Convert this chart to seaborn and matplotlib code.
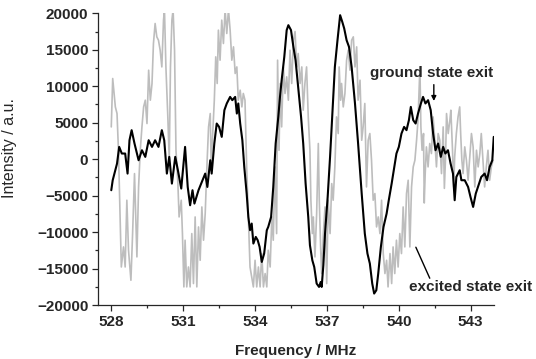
import numpy as np
import pandas as pd
import matplotlib
matplotlib.use("Agg")
import matplotlib.pyplot as plt
import seaborn as sns
from matplotlib.ticker import MultipleLocator

black_freq = [528.00, 528.06, 528.17, 528.24, 528.33, 528.44, 528.58, 528.68, 528.76, 528.85,
              528.97, 529.14, 529.28, 529.42, 529.56, 529.70, 529.83, 529.97, 530.11, 530.21,
              530.32, 530.42, 530.53, 530.67, 530.78, 530.92, 531.08, 531.19, 531.29, 531.39,
              531.47, 531.64, 531.78, 531.92, 532.01, 532.13, 532.19, 532.30, 532.40, 532.50,
              532.61, 532.72, 532.82, 532.96, 533.05, 533.17, 533.24, 533.30, 533.38, 533.47,
              533.55, 533.65, 533.72, 533.79, 533.86, 533.93, 534.03, 534.11, 534.19, 534.28,
              534.38, 534.49, 534.55, 534.67, 534.76, 534.86, 534.97, 535.04, 535.11, 535.22,
              535.32, 535.39, 535.50, 535.60, 535.69, 535.80, 535.92, 536.01, 536.11, 536.22,
              536.29, 536.39, 536.47, 536.57, 536.67, 536.74, 536.78, 536.85, 536.92, 537.03,
              537.13, 537.22, 537.33, 537.44, 537.55, 537.64, 537.72, 537.82, 537.92, 538.03,
              538.17, 538.30, 538.45, 538.58, 538.69, 538.79, 538.89, 538.97, 539.06, 539.14,
              539.25, 539.36, 539.49, 539.58, 539.70, 539.81, 539.90, 540.00, 540.11, 540.22,
              540.32, 540.42, 540.50, 540.60, 540.70, 540.80, 540.92, 541.01, 541.11, 541.22,
              541.33, 541.43, 541.53, 541.64, 541.75, 541.85, 541.94, 542.05, 542.16, 542.26,
              542.33, 542.40, 542.54, 542.61, 542.75, 542.89, 542.99, 543.10, 543.21, 543.35,
              543.44, 543.58, 543.68, 543.79, 543.90, 543.96]
black_int = [-4250, -2880, -1510, -600, 1690, 780, 780, -1970, 2600, 3980,
             2150, -140, 1230, 320, 2600, 1690, 2600, 1690, 3980, 2600,
             -1970, 320, -3340, 320, -1510, -4020, 1690, -3800, -6310, -4250,
             -6080, -4250, -3110, -1970, -3800, -140, -1970, 2150, 4890, 4430,
             3060, 6720, 7640, 8540, 8090, 8540, 6260, 7640, 4890, 2600,
             -1050, -4710, -7910, -9730, -8820, -11560, -10650, -11100, -12020, -14080,
             -12930, -9730, -9280, -7910, -3800, 2150, 5800, 8540, 10830, 14030,
             17690, 18370, 17690, 15400, 13570, 9910, 5800, 2150, -3340, -7910,
             -11790, -13850, -14770, -17040, -17500, -16820, -17500, -14530, -10190, -5170,
             320, 5800, 12650, 16310, 19740, 18820, 17920, 16310, 15400, 12650,
             7640, 2150, -4710, -10190, -12930, -14300, -17040, -18410, -17960, -15670,
             -12020, -9280, -7450, -5620, -3340, -1050, 780, 1690, 3520, 4430,
             3980, 5350, 7170, 5350, 4890, 6260, 7640, 8540, 7640, 8090,
             6720, 3520, 1230, 2150, 320, 1690, 780, 1230, -600, -1970,
             -5620, -2430, -1510, -2880, -2880, -3800, -5170, -6540, -4710, -3340,
             -2430, -1970, -2880, -1050, -140, 3060]

grey_freq = [528.00, 528.06, 528.17, 528.24, 528.30, 528.42, 528.51, 528.58, 528.65, 528.72,
             528.82, 528.89, 528.97, 529.07, 529.14, 529.21, 529.28, 529.35, 529.42, 529.49,
             529.56, 529.63, 529.70, 529.76, 529.83, 529.90, 529.97, 530.04, 530.11, 530.18,
             530.22, 530.28, 530.36, 530.42, 530.47, 530.53, 530.58, 530.64, 530.70, 530.78,
             530.83, 530.92, 530.97, 531.03, 531.08, 531.15, 531.22, 531.29, 531.36, 531.43,
             531.50, 531.57, 531.64, 531.71, 531.78, 531.85, 531.92, 531.99, 532.06, 532.13,
             532.17, 532.22, 532.30, 532.36, 532.42, 532.47, 532.54, 532.61, 532.68, 532.75,
             532.82, 532.89, 532.96, 533.03, 533.10, 533.17, 533.24, 533.30, 533.38, 533.45,
             533.51, 533.58, 533.65, 533.72, 533.79, 533.86, 533.93, 534.00, 534.07, 534.14,
             534.21, 534.28, 534.35, 534.42, 534.49, 534.55, 534.63, 534.70, 534.76, 534.83,
             534.90, 534.94, 535.00, 535.05, 535.11, 535.18, 535.25, 535.32, 535.39, 535.46,
             535.53, 535.60, 535.67, 535.71, 535.75, 535.80, 535.88, 535.95, 536.01, 536.08,
             536.15, 536.22, 536.29, 536.33, 536.39, 536.43, 536.50, 536.57, 536.64, 536.68,
             536.74, 536.78, 536.85, 536.92, 536.99, 537.05, 537.13, 537.20, 537.26, 537.33,
             537.40, 537.47, 537.51, 537.57, 537.61, 537.68, 537.75, 537.82, 537.89, 537.96,
             538.03, 538.10, 538.17, 538.24, 538.30, 538.38, 538.45, 538.51, 538.58, 538.65,
             538.72, 538.79, 538.86, 538.93, 539.00, 539.07, 539.14, 539.21, 539.28, 539.35,
             539.42, 539.49, 539.55, 539.63, 539.70, 539.76, 539.83, 539.90, 539.97, 540.04,
             540.11, 540.18, 540.25, 540.32, 540.39, 540.46, 540.53, 540.60, 540.67, 540.74,
             540.80, 540.88, 540.92, 540.97, 541.03, 541.06, 541.10, 541.15, 541.22, 541.29,
             541.36, 541.43, 541.50, 541.57, 541.64, 541.71, 541.78, 541.85, 541.90, 541.95,
             541.99, 542.06, 542.13, 542.17, 542.24, 542.29, 542.33, 542.40, 542.47, 542.54,
             542.58, 542.63, 542.68, 542.75, 542.82, 542.89, 542.96, 543.03, 543.10, 543.17,
             543.24, 543.31, 543.38, 543.44, 543.51, 543.58, 543.65, 543.72, 543.79, 543.86,
             543.93]
grey_int = [4430, 11060, 7170, 6260, 1230, -14770, -12020, -14770, -5620, -12480,
            -16590, -10190, -1970, -13390, -3800, 1230, 4430, 7170, 8090, 4890,
            12200, 8090, 10380, 15860, 18600, 16770, 16310, 14940, 12650, 19060,
            20500, 12650, 5800, -140, 12650, 19060, 20500, 14940, 1230, -3340,
            -7910, -5620, -10190, -17500, -11100, -17500, -14770, -17500, -10190, -17040,
            -7910, -17500, -9280, -13850, -6540, -11100, -7450, -1050, 4430, 6260,
            -1050, 2600, 8090, 14030, 10380, 17690, 13570, 19060, 15860, 20500,
            17230, 20500, 17690, 13570, 15400, 11750, 12650, 8090, 9460, 7170,
            9010, 8090, -1050, -7910, -14770, -16130, -17500, -13850, -17500, -14770,
            -17500, -12930, -17500, -15670, -17500, -12480, -14770, -7910, -11100, -1050,
            -10190, 13570, 1230, 10380, 4430, 12650, 9010, 11290, 8090, 14940,
            10380, 16310, 17500, 14500, 12650, 14490, 10380, 12650, 6720, 10380,
            12650, 5800, 1230, -5620, -10190, -7910, -13390, -7450, 2150, -5620,
            -12480, -15670, -10190, -6540, -17040, -5620, -10190, -3340, -5620, -1050,
            5800, 3520, 12650, 8090, 10380, 7170, 9010, 13570, 14940, 12200,
            16310, 16770, 12650, 15400, 8090, 10830, 2600, 4430, 7640, -3800,
            2600, 3520, -140, -5620, -4710, -9280, -7910, -10190, -5620, -12930,
            -15670, -13850, -17500, -12930, -17040, -12020, -15670, -11100, -14770, -10190,
            -12930, -6540, -12020, -4710, -2880, -12020, -3800, -1050, -140, 2600,
            5350, 12650, 4430, 1230, 3520, -6000, -1970, 1690, -1050, 2150,
            780, 5800, 2600, -1050, 3520, 2600, -1970, 4430, -4000, 320,
            6260, 3520, 5350, 6720, 1230, -3800, 320, 3520, 5800, 7170,
            3520, -140, -1970, 1690, -140, -2880, 320, 3520, 1690, -3800,
            1230, -1050, 780, 3520, -140, -3800, -1050, 1230, -2880, -1050,
            -140]

x_ticks = [528, 531, 534, 537, 540, 543]
y_ticks = [-20000, -15000, -10000, -5000, 0, 5000, 10000, 15000, 20000]

sns.set_style("ticks")
plt.rcParams['font.family'] = ['Liberation Sans', 'DejaVu Sans']

fig = plt.figure(figsize=(5.36, 3.59), dpi=100)
ax = fig.add_axes([0.183, 0.150, 0.7386, 0.813])

grey_df = pd.DataFrame({"freq": grey_freq, "intensity": grey_int})
black_df = pd.DataFrame({"freq": black_freq, "intensity": black_int})

sns.lineplot(data=grey_df, x="freq", y="intensity", color="#bdbdbd", lw=1.2,
             estimator=None, sort=False, ax=ax)
sns.lineplot(data=black_df, x="freq", y="intensity", color="black", lw=1.5,
             estimator=None, sort=False, ax=ax)

ax.set_xlim(527.45, 543.97)
ax.set_ylim(-20000, 20000)
ax.set_xticks(x_ticks)
ax.set_yticks(y_ticks)
ax.xaxis.set_minor_locator(MultipleLocator(1.5))
ax.yaxis.set_minor_locator(MultipleLocator(2500))
ax.tick_params(axis="both", which="major", direction="out", length=4, width=0.9,
               labelsize=11, pad=3)
ax.tick_params(axis="both", which="minor", direction="out", length=2.5, width=0.9)
for lab in ax.get_xticklabels() + ax.get_yticklabels():
    lab.set_fontweight("bold")

sns.despine(ax=ax)
for s in ["left", "bottom"]:
    ax.spines[s].set_linewidth(0.9)

ax.set_xlabel("Frequency / MHz", fontsize=11, fontweight="bold", labelpad=11)
ax.set_ylabel("Intensity / a.u.", fontsize=11.5, fontweight="normal")
ax.yaxis.set_label_coords(-0.205, 0.54)

ax.annotate("", xy=(541.46, 7600), xytext=(541.46, 10600),
            arrowprops=dict(arrowstyle="-|>", color="black", lw=1.0, mutation_scale=7))
ax.text(541.35, 11800, "ground state exit", ha="center", va="center",
        fontsize=11, fontweight="bold")

ax.plot([540.71, 541.29], [-12060, -16310], color="black", lw=1.0)
ax.text(543.0, -17550, "excited state exit", ha="center", va="center",
        fontsize=11, fontweight="bold", clip_on=False)

fig.savefig("out.png", dpi=100)
